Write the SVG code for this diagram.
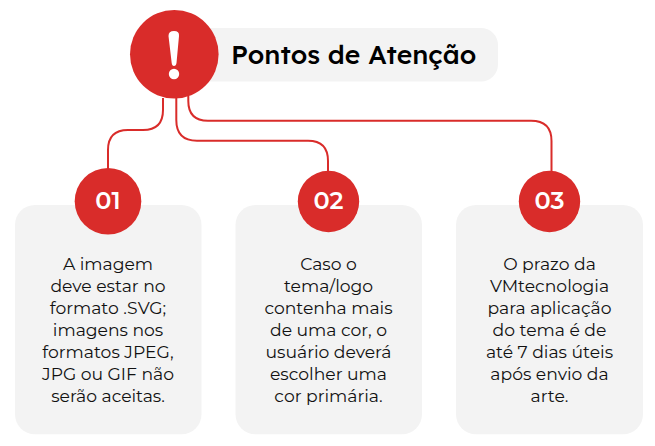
<svg xmlns="http://www.w3.org/2000/svg" width="655" height="446" viewBox="0 0 655 446">
<style>
.num,.body{font-family:"Montserrat","Noto Sans",sans-serif}
.title{font-family:"Lexend","Montserrat","Noto Sans",sans-serif}
.card{fill:#f3f3f3}
.dot{fill:#d92c2a}
.conn{fill:none;stroke:#d92c2a;stroke-width:2}
.num{fill:#fff;font-size:24px;font-weight:600;text-anchor:middle}
.body{fill:#111;font-size:17.2px;text-anchor:middle}
.title{fill:#000;font-size:26.500px;font-weight:500}
</style>
<rect width="655" height="446" fill="#fff"/>
<g id="connectors">
<path class="conn" d="M163 98V110Q163 130 143 130H128Q108 130 108 150V170"/>
<path class="conn" d="M176.300 98V120Q176.300 140.700 197 140.700H308Q328 140.700 328 161V173"/>
<path class="conn" d="M188.300 96V101Q188.300 120.700 208 120.700H531Q551.500 120.700 551.500 141V173"/>
</g>
<g id="title">
<rect x="170" y="28" width="328" height="53.500" rx="17" fill="#f3f3f3"/>
<text class="title" x="231" y="64">Pontos de Atenção</text>
</g>
<g id="alert">
<circle class="dot" cx="174.300" cy="54.300" r="44.300"/>
<path d="M168.500 36Q168.500 31 174 31Q179.500 31 179 36L176.500 63Q176 66 174 66Q172 66 171.700 63Z" fill="#fff"/>
<circle cx="174" cy="74" r="5.200" fill="#fff"/>
</g>
<g id="node1">
<rect class="card" x="15" y="205" width="186.500" height="229.300" rx="20"/>
<circle class="dot" cx="108" cy="201.300" r="33.300"/>
<text class="num" x="108" y="209">01</text>
<text class="body" x="108" y="270">A imagem</text>
<text class="body" x="108" y="292">deve estar no</text>
<text class="body" x="108" y="314">formato .SVG;</text>
<text class="body" x="108" y="336">imagens nos</text>
<text class="body" x="108" y="358">formatos JPEG,</text>
<text class="body" x="108" y="380">JPG ou GIF não</text>
<text class="body" x="108" y="402">serão aceitas.</text>
</g>
<g id="node2">
<rect class="card" x="235.500" y="205" width="186.500" height="229.300" rx="20"/>
<circle class="dot" cx="328.500" cy="201.500" r="30.700"/>
<text class="num" x="328.500" y="209">02</text>
<text class="body" x="328.500" y="270">Caso o</text>
<text class="body" x="328.500" y="292">tema/logo</text>
<text class="body" x="328.500" y="314">contenha mais</text>
<text class="body" x="328.500" y="336">de uma cor, o</text>
<text class="body" x="328.500" y="358">usuário deverá</text>
<text class="body" x="328.500" y="380">escolher uma</text>
<text class="body" x="328.500" y="402">cor primária.</text>
</g>
<g id="node3">
<rect class="card" x="456" y="205" width="187" height="229.300" rx="20"/>
<circle class="dot" cx="549.500" cy="201.500" r="30.700"/>
<text class="num" x="549.500" y="209">03</text>
<text class="body" x="549.500" y="270">O prazo da</text>
<text class="body" x="549.500" y="292">VMtecnologia</text>
<text class="body" x="549.500" y="314">para aplicação</text>
<text class="body" x="549.500" y="336">do tema é de</text>
<text class="body" x="549.500" y="358">até 7 dias úteis</text>
<text class="body" x="549.500" y="380">após envio da</text>
<text class="body" x="549.500" y="402">arte.</text>
</g>
</svg>
